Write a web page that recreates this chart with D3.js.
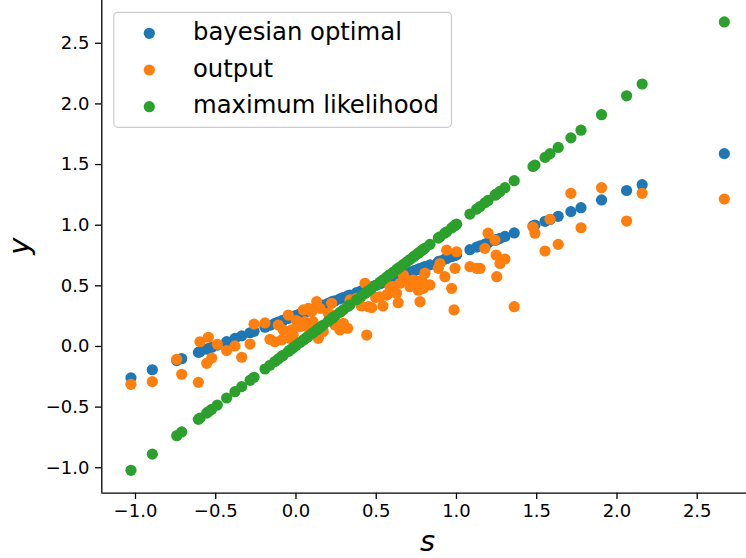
<!DOCTYPE html>
<html>
<head>
<meta charset="utf-8">
<script src="https://cdn.jsdelivr.net/npm/d3@7"></script>
<style>
  html, body { margin: 0; padding: 0; background: #fff; }
  svg { display: block; }
  text { font-family: "DejaVu Sans", sans-serif; }
</style>
</head>
<body>
<svg id="chart" width="746" height="558"></svg>
<script>
// ---- data ----
const sValues = [
  -1.025, -0.892, -0.740, -0.709, -0.605, -0.595, -0.553, -0.543, -0.522, -0.487,
  -0.429, -0.377, -0.335, -0.283, -0.258, -0.190, -0.159, -0.128, -0.107, -0.086,
  -0.076, -0.045, -0.034, -0.024, -0.014, 0.005, 0.028, 0.049, 0.059, 0.070,
  0.080, 0.100, 0.110, 0.132, 0.142, 0.153, 0.173, 0.204, 0.225, 0.235,
  0.246, 0.277, 0.298, 0.325, 0.340, 0.381, 0.410, 0.433, 0.444, 0.455,
  0.475, 0.500, 0.526, 0.545, 0.568, 0.578, 0.589, 0.610, 0.630, 0.640,
  0.651, 0.672, 0.693, 0.713, 0.734, 0.745, 0.765, 0.776, 0.786, 0.797,
  0.807, 0.838, 0.890, 0.900, 0.931, 0.942, 0.973, 0.988, 0.994, 1.004,
  1.087, 1.129, 1.150, 1.180, 1.200, 1.243, 1.250, 1.254, 1.274, 1.305,
  1.363, 1.480, 1.492, 1.555, 1.586, 1.637, 1.716, 1.779, 1.907, 2.063,
  2.160, 2.672
];
const bayesianOptimal = [
  -0.263, -0.196, -0.120, -0.105, -0.053, -0.048, -0.027, -0.022, -0.011, 0.007,
  0.036, 0.062, 0.083, 0.109, 0.121, 0.155, 0.171, 0.186, 0.197, 0.207,
  0.212, 0.228, 0.233, 0.238, 0.243, 0.253, 0.264, 0.275, 0.280, 0.285,
  0.290, 0.300, 0.305, 0.316, 0.321, 0.327, 0.337, 0.352, 0.363, 0.368,
  0.373, 0.389, 0.399, 0.413, 0.420, 0.441, 0.455, 0.467, 0.472, 0.478,
  0.488, 0.500, 0.513, 0.523, 0.534, 0.539, 0.545, 0.555, 0.565, 0.570,
  0.576, 0.586, 0.597, 0.607, 0.617, 0.623, 0.633, 0.638, 0.643, 0.649,
  0.654, 0.669, 0.695, 0.700, 0.716, 0.721, 0.737, 0.744, 0.747, 0.752,
  0.794, 0.815, 0.825, 0.840, 0.850, 0.872, 0.875, 0.877, 0.887, 0.903,
  0.932, 0.990, 0.996, 1.028, 1.043, 1.069, 1.108, 1.140, 1.204, 1.282,
  1.330, 1.586
];
const outputValues = [
  -0.316, -0.294, -0.110, -0.233, -0.300, 0.035, -0.143, 0.072, -0.100, 0.014,
  -0.038, 0.000, -0.093, 0.016, 0.180, 0.190, 0.055, 0.035, 0.173, 0.050,
  0.132, 0.255, 0.063, 0.132, 0.090, 0.210, 0.160, 0.297, 0.200, 0.160,
  0.310, 0.283, 0.200, 0.365, 0.063, 0.310, 0.120, 0.270, 0.352, 0.255,
  0.173, 0.132, 0.187, 0.146, 0.380, 0.393, 0.330, 0.517, 0.090, 0.324,
  0.316, 0.400, 0.406, 0.330, 0.420, 0.430, 0.489, 0.490, 0.434, 0.357,
  0.517, 0.585, 0.544, 0.489, 0.544, 0.530, 0.460, 0.365, 0.544, 0.475,
  0.600, 0.503, 0.640, 0.680, 0.571, 0.790, 0.475, 0.297, 0.640, 0.777,
  0.654, 0.640, 0.640, 0.805, 0.930, 0.874, 0.750, 0.571, 0.680, 0.717,
  0.324, 0.980, 0.930, 0.783, 1.045, 0.838, 1.259, 0.975, 1.305, 1.030,
  1.259, 1.212
];
const maximumLikelihood = [
  -1.025, -0.892, -0.740, -0.709, -0.605, -0.595, -0.553, -0.543, -0.522, -0.487,
  -0.429, -0.377, -0.335, -0.283, -0.258, -0.190, -0.159, -0.128, -0.107, -0.086,
  -0.076, -0.045, -0.034, -0.024, -0.014, 0.005, 0.028, 0.049, 0.059, 0.070,
  0.080, 0.100, 0.110, 0.132, 0.142, 0.153, 0.173, 0.204, 0.225, 0.235,
  0.246, 0.277, 0.298, 0.325, 0.340, 0.381, 0.410, 0.433, 0.444, 0.455,
  0.475, 0.500, 0.526, 0.545, 0.568, 0.578, 0.589, 0.610, 0.630, 0.640,
  0.651, 0.672, 0.693, 0.713, 0.734, 0.745, 0.765, 0.776, 0.786, 0.797,
  0.807, 0.838, 0.890, 0.900, 0.931, 0.942, 0.973, 0.988, 0.994, 1.004,
  1.087, 1.129, 1.150, 1.180, 1.200, 1.243, 1.250, 1.254, 1.274, 1.305,
  1.363, 1.480, 1.492, 1.555, 1.586, 1.637, 1.716, 1.779, 1.907, 2.063,
  2.160, 2.672
];
const seriesNames = ["bayesian optimal", "output", "maximum likelihood"];
const seriesColors = ["#1f77b4", "#ff7f0e", "#2ca02c"];
const xTicks = [-1.0, -0.5, 0.0, 0.5, 1.0, 1.5, 2.0, 2.5];
const yTicks = [-1.0, -0.5, 0.0, 0.5, 1.0, 1.5, 2.0, 2.5];
const xLabel = "s";
const yLabel = "y";

// ---- layout ----
const svg = d3.select("#chart");
const plot = { left: 101.3, right: 754.0, top: -0.5, bottom: 492.7 };

const seriesY = [bayesianOptimal, outputValues, maximumLikelihood];

function padded(ext) {
  const pad = (ext[1] - ext[0]) * 0.05;
  return [ext[0] - pad, ext[1] + pad];
}
const xExt = d3.extent(sValues);
const yExt = d3.extent(seriesY.flat());

const x = d3.scaleLinear().domain(padded(xExt)).range([plot.left, plot.right]);
const y = d3.scaleLinear().domain(padded(yExt)).range([plot.bottom, plot.top]);

const fmt = v => d3.format(".1f")(v).replace("-", "\u2212");

// points
const R = 5.6;
seriesY.forEach((vals, i) => {
  svg.append("g")
    .selectAll("circle")
    .data(sValues.map((s, k) => [s, vals[k]]))
    .join("circle")
    .attr("cx", d => x(d[0]))
    .attr("cy", d => y(d[1]))
    .attr("r", R)
    .attr("fill", seriesColors[i]);
});

// axes
const xAxis = d3.axisBottom(x).tickValues(xTicks).tickFormat(fmt).tickSize(6.3).tickPadding(5.5);
const yAxis = d3.axisLeft(y).tickValues(yTicks).tickFormat(fmt).tickSize(6.3).tickPadding(5.5);

const gx = svg.append("g").attr("transform", `translate(0,${plot.bottom})`).call(xAxis);
const gy = svg.append("g").attr("transform", `translate(${plot.left},0)`).call(yAxis);

[gx, gy].forEach(g => {
  g.select(".domain").attr("stroke", "#000").attr("stroke-width", 1.3);
  g.selectAll(".tick line").attr("stroke", "#000").attr("stroke-width", 1.3);
  g.selectAll(".tick text")
    .attr("fill", "#000")
    .style("font-family", "'DejaVu Sans', sans-serif")
    .style("font-size", "18px");
});
// fix domain path to span whole axis without outer ticks
gx.select(".domain").attr("d", `M${plot.left},0.5H${plot.right}`);
gy.select(".domain").attr("d", `M0.5,${plot.bottom}V${plot.top}`);

// axis labels
svg.append("text")
  .attr("x", (plot.left + plot.right) / 2)
  .attr("y", 551)
  .attr("text-anchor", "middle")
  .style("font-size", "29px")
  .style("font-style", "italic")
  .text(xLabel);

svg.append("text")
  .attr("transform", `translate(28.5,${(plot.top + plot.bottom) / 2}) rotate(-90)`)
  .attr("text-anchor", "middle")
  .style("font-size", "29px")
  .style("font-style", "italic")
  .text(yLabel);

// legend
const lg = svg.append("g");
lg.append("rect")
  .attr("x", 113.8).attr("y", 12.3)
  .attr("width", 337.6).attr("height", 115)
  .attr("rx", 4).attr("ry", 4)
  .attr("fill", "#fff").attr("fill-opacity", 0.8)
  .attr("stroke", "#cccccc").attr("stroke-width", 1.2);

seriesNames.forEach((name, i) => {
  const cy = 33.3 + i * 36.7;
  lg.append("circle").attr("cx", 149.3).attr("cy", cy).attr("r", R).attr("fill", seriesColors[i]);
  lg.append("text")
    .attr("x", 193)
    .attr("y", cy + 6.7)
    .style("font-size", "24.3px")
    .attr("fill", "#000")
    .text(name);
});
</script>
</body>
</html>
